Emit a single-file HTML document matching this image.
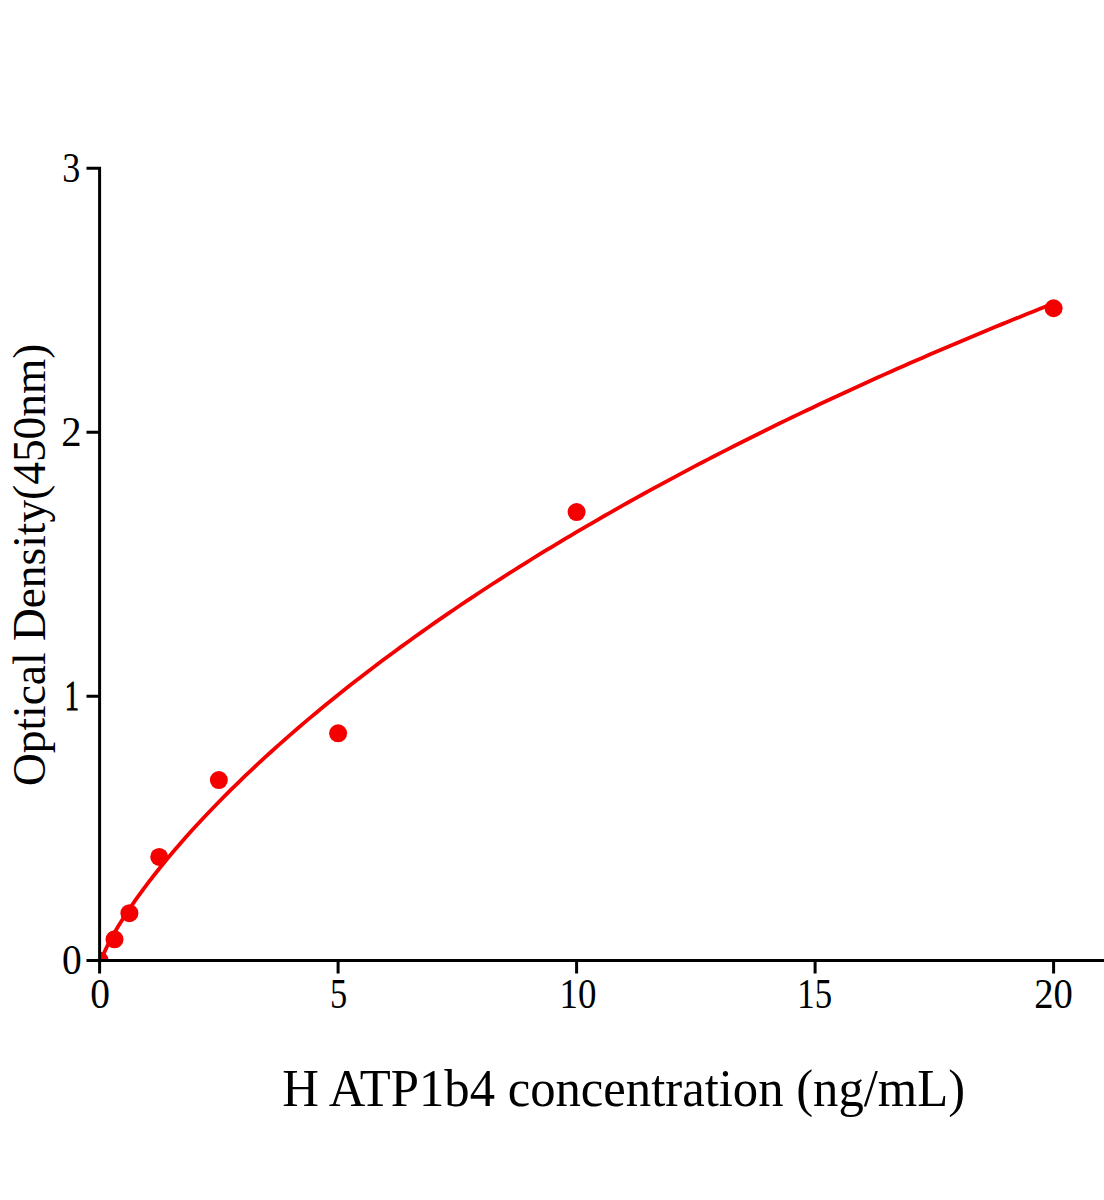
<!DOCTYPE html>
<html><head><meta charset="utf-8"><style>
html,body{margin:0;padding:0;background:#fff;width:1104px;height:1200px;overflow:hidden}
svg{display:block}
text{font-family:"Liberation Serif",serif;fill:#000}
</style></head><body>
<svg width="1104" height="1200" viewBox="0 0 1104 1200">
<defs><clipPath id="pa"><rect x="99.6" y="0" width="1004.4" height="960.4"/></clipPath></defs>
<g clip-path="url(#pa)">
<polyline points="99.60,965.55 99.61,965.47 99.63,965.31 99.67,965.10 99.72,964.83 99.79,964.53 99.88,964.18 99.97,963.80 100.09,963.39 100.22,962.94 100.36,962.46 100.52,961.95 100.70,961.42 100.89,960.85 101.10,960.26 101.32,959.65 101.56,959.01 101.81,958.34 102.08,957.65 102.36,956.94 102.66,956.21 102.97,955.45 103.30,954.68 103.64,953.88 104.00,953.06 104.38,952.22 104.77,951.36 105.17,950.48 105.59,949.59 106.03,948.67 106.48,947.74 106.94,946.79 107.43,945.82 107.92,944.83 108.44,943.82 108.96,942.80 109.51,941.76 110.06,940.71 110.64,939.64 111.23,938.55 111.83,937.44 112.45,936.33 113.08,935.19 113.73,934.04 114.40,932.88 115.08,931.70 115.77,930.50 116.48,929.29 117.21,928.07 117.95,926.83 118.71,925.58 119.48,924.32 120.27,923.04 121.07,921.75 121.89,920.45 122.72,919.13 123.57,917.80 124.43,916.45 125.31,915.10 126.21,913.73 127.11,912.35 128.04,910.96 128.98,909.55 129.94,908.13 130.91,906.71 131.89,905.26 132.89,903.81 133.91,902.35 134.94,900.88 135.99,899.39 137.05,897.89 138.13,896.39 139.22,894.87 140.33,893.34 141.45,891.80 142.59,890.25 143.75,888.69 144.92,887.12 146.10,885.54 147.30,883.95 153.82,875.48 160.34,867.28 166.86,859.30 173.38,851.54 179.90,843.97 186.42,836.56 192.94,829.32 199.46,822.23 205.98,815.27 212.50,808.44 219.02,801.74 225.54,795.14 232.06,788.66 238.58,782.28 245.10,775.99 251.62,769.80 258.14,763.69 264.66,757.67 271.18,751.74 277.70,745.88 284.22,740.09 290.74,734.38 297.26,728.74 303.78,723.16 310.30,717.66 316.82,712.21 323.34,706.82 329.86,701.50 336.38,696.23 342.90,691.02 349.42,685.86 355.94,680.76 362.46,675.70 368.98,670.70 375.51,665.75 382.03,660.84 388.55,655.98 395.07,651.16 401.59,646.39 408.11,641.67 414.63,636.98 421.15,632.34 427.67,627.74 434.19,623.17 440.71,618.65 447.23,614.16 453.75,609.71 460.27,605.30 466.79,600.93 473.31,596.58 479.83,592.28 486.35,588.00 492.87,583.76 499.39,579.56 505.91,575.38 512.43,571.24 518.95,567.13 525.47,563.05 531.99,558.99 538.51,554.97 545.03,550.98 551.55,547.01 558.07,543.07 564.59,539.16 571.11,535.28 577.63,531.43 584.15,527.60 590.67,523.79 597.19,520.02 603.71,516.26 610.23,512.54 616.75,508.83 623.27,505.15 629.79,501.50 636.31,497.87 642.83,494.26 649.35,490.67 655.87,487.11 662.39,483.57 668.91,480.05 675.43,476.55 681.95,473.08 688.47,469.62 694.99,466.19 701.51,462.77 708.03,459.38 714.55,456.01 721.07,452.65 727.59,449.32 734.11,446.01 740.63,442.71 747.15,439.43 753.67,436.18 760.19,432.94 766.71,429.71 773.23,426.51 779.75,423.33 786.27,420.16 792.79,417.01 799.31,413.88 805.83,410.76 812.35,407.66 818.87,404.58 825.39,401.51 831.92,398.46 838.44,395.43 844.96,392.41 851.48,389.41 858.00,386.42 864.52,383.45 871.04,380.50 877.56,377.56 884.08,374.63 890.60,371.72 897.12,368.83 903.64,365.94 910.16,363.08 916.68,360.23 923.20,357.39 929.72,354.56 936.24,351.75 942.76,348.96 949.28,346.17 955.80,343.40 962.32,340.65 968.84,337.90 975.36,335.17 981.88,332.46 988.40,329.75 994.92,327.06 1001.44,324.38 1007.96,321.72 1014.48,319.06 1021.00,316.42 1027.52,313.79 1034.04,311.17 1040.56,308.57 1047.08,305.98 1053.60,303.39" fill="none" stroke="#f40000" stroke-width="3.8" stroke-linejoin="round"/>
<g fill="#f40000">
<circle cx="99.60" cy="960.40" r="9"/>
<circle cx="114.51" cy="939.28" r="9"/>
<circle cx="129.41" cy="913.14" r="9"/>
<circle cx="159.22" cy="856.90" r="9"/>
<circle cx="218.85" cy="780.07" r="9"/>
<circle cx="338.10" cy="733.33" r="9"/>
<circle cx="576.60" cy="512.08" r="9"/>
<circle cx="1053.60" cy="308.25" r="9"/>
</g>
</g>
<path d="M99.6 167V973.5 M86.5 960.4H1104 M86.5 960.40H101.1M86.5 696.37H101.1M86.5 432.34H101.1M86.5 168.31H101.1 M99.60 958.9V973.5M338.10 958.9V973.5M576.60 958.9V973.5M815.10 958.9V973.5M1053.60 958.9V973.5" stroke="#000" stroke-width="3" fill="none"/>
<g font-size="42"><text transform="translate(71.90 973.70) scale(0.940 1)" text-anchor="middle">0</text><text transform="translate(71.90 709.67) scale(0.680 1)" text-anchor="middle" stroke="#000" stroke-width="0.9">1</text><text transform="translate(71.50 445.64) scale(0.970 1)" text-anchor="middle">2</text><text transform="translate(71.20 181.61) scale(0.860 1)" text-anchor="middle">3</text><text transform="translate(100.00 1007.5) scale(0.940 1)" text-anchor="middle">0</text><text transform="translate(338.50 1007.5) scale(0.820 1)" text-anchor="middle">5</text><text transform="translate(578.00 1007.5) scale(0.880 1)" text-anchor="middle">10</text><text transform="translate(814.70 1007.5) scale(0.830 1)" text-anchor="middle">15</text><text transform="translate(1053.45 1007.5) scale(0.920 1)" text-anchor="middle">20</text></g>
<text transform="translate(282.3 1105.5) scale(1 1.04)" font-size="50.7">H ATP1b4 concentration (ng/mL)</text>
<text transform="translate(45 786) rotate(-90) scale(1 1.04)" font-size="45.4">Optical Density(450nm)</text>
</svg>
</body></html>
